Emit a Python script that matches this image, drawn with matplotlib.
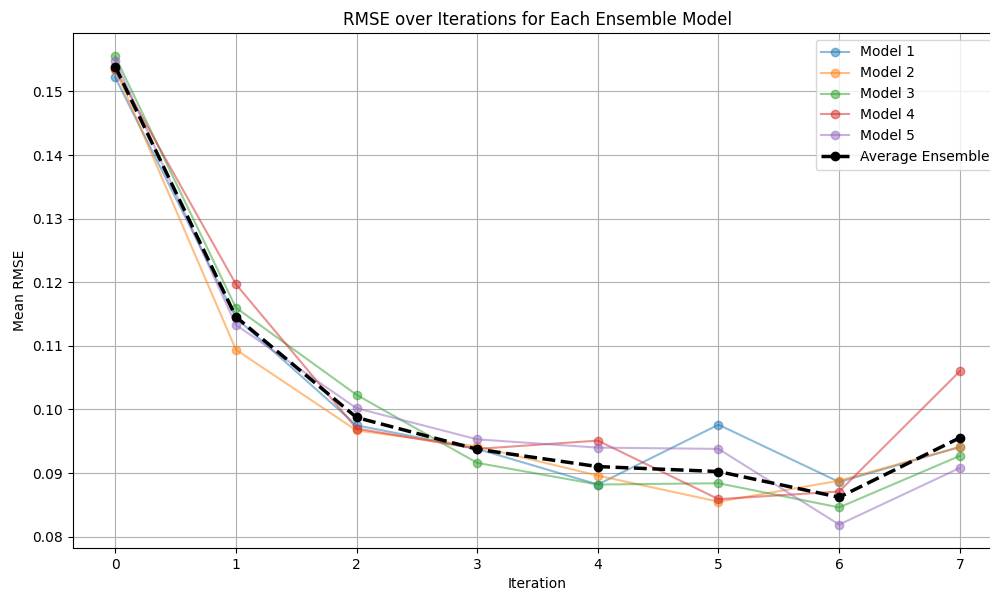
import matplotlib
matplotlib.use("Agg")
import matplotlib.pyplot as plt

iterations = [0, 1, 2, 3, 4, 5, 6, 7]
model_1 = [0.1522, 0.1144, 0.0975, 0.0938, 0.0882, 0.0976, 0.0886, 0.0941]
model_2 = [0.1535, 0.1094, 0.0967, 0.0942, 0.0896, 0.0855, 0.0888, 0.0941]
model_3 = [0.1555, 0.1160, 0.1023, 0.0916, 0.0882, 0.0884, 0.0846, 0.0927]
model_4 = [0.1535, 0.1197, 0.0970, 0.0938, 0.0951, 0.0859, 0.0871, 0.1060]
model_5 = [0.1548, 0.1133, 0.1002, 0.0953, 0.0940, 0.0938, 0.0819, 0.0908]
models = [model_1, model_2, model_3, model_4, model_5]
labels = ["Model 1", "Model 2", "Model 3", "Model 4", "Model 5"]
average = [sum(v) / len(v) for v in zip(*models)]

fig = plt.figure(figsize=(9.9, 5.9), dpi=100)
ax = fig.add_axes([73/990, 1 - 548/590, (1002 - 73)/990, (548 - 33)/590])

for vals, lab in zip(models, labels):
    ax.plot(iterations, vals, marker='o', alpha=0.5, label=lab)
ax.plot(iterations, average, marker='o', color='black', linestyle='--',
        linewidth=2.5, label='Average Ensemble')

ax.set_title("RMSE over Iterations for Each Ensemble Model")
ax.set_xlabel("Iteration")
ax.set_ylabel("Mean RMSE")
ax.grid(True)
ax.legend(loc='upper right')

fig.savefig("out.png", dpi=100)
